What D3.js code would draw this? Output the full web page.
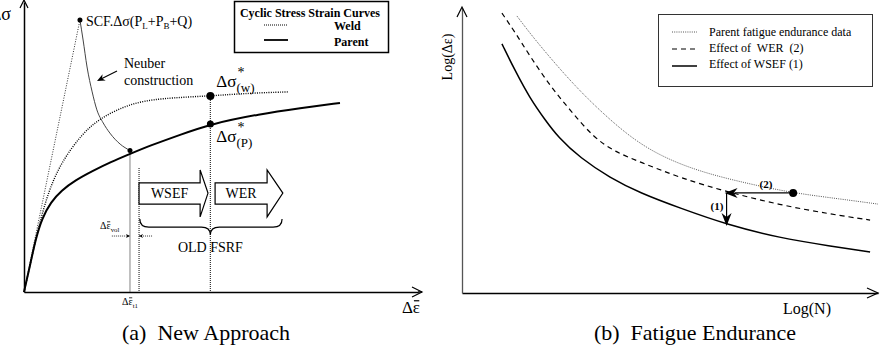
<!DOCTYPE html>
<html>
<head>
<meta charset="utf-8">
<script src="https://cdn.jsdelivr.net/npm/d3@7"></script>
<style>
body { margin: 0; background: #fff; }
svg text { font-family: "Liberation Serif", "Times New Roman", "DejaVu Serif", serif; fill: #000; }
</style>
</head>
<body>
<div id="chart"></div>
<script>
// ---- (a) New Approach : strain / stress, % of axis length ----
var parentCurve = [[0,0],[1.5,9.0],[3.0,18.5],[4.6,25.5],[6.8,31.0],[9.5,35.0],[13.0,38.5],[17.5,41.8],
    [22.0,44.8],[26.9,47.6],[32.0,50.5],[39.6,54.2],[47.3,57.9],[59.9,61.4],[70.1,63.4],[80.2,65.2]];
var weldCurve = [[0,0],[1.5,9.0],[3.0,18.5],[4.6,27.0],[6.6,36.0],[9.6,45.0],[14.7,54.5],[19.3,60.0],
    [26.9,65.0],[34.5,66.8],[47.3,67.6],[57.4,68.6],[67.0,69.0]];
var neuberCurve = [[14.2,93.8],[15.0,86.9],[16.0,77.6],[17.3,69.0],[18.5,62.8],[20.1,58.3],
    [21.8,54.8],[24.4,51.0],[26.9,48.8]];
var scfPoint = [14.2, 93.8];
var neuberPoint = [26.9, 48.8];
var volStrain = 29.2;          // Δε_vol shifted strain
var starStrain = 47.3;          // Δσ* strain
var weldStar = 67.6, parentStar = 57.9;
var blockArrows = [
    {label: "WSEF", x0: 29.2, x1: 44.7, tip: 46.7},
    {label: "WER", x0: 48.5, x1: 61.7, tip: 65.7}
];
var braceRange = [29.4, 47.3, 65.5];
var legendA = ["Weld", "Parent"];

// ---- (b) Fatigue Endurance : log N / log strain, % of axis length ----
var parentFatigue = [[13.2,97.2],[16.3,91.2],[21.2,82.5],[27.2,72.6],[33.2,63.9],[40.4,54.7],
    [47.6,48.1],[57.2,42.5],[69.2,38.2],[79.6,35.1],[90.9,33.0],[100,31.2]];
var werCurve = [[9.6,98.2],[12.7,91.6],[16.3,83.2],[21.2,72.6],[26.0,64.2],[31.5,54.7],[36.8,49.5],
    [42.8,46.0],[52.4,40.4],[63.9,35.4],[76.4,30.9],[88.5,27.7],[98.1,25.6]];
var wsefCurve = [[9.6,87.4],[12.7,78.2],[16.3,68.4],[20.0,60.7],[23.1,54.7],[28.4,47.4],[35.6,40.4],
    [42.8,35.1],[52.4,29.8],[63.9,23.9],[76.4,19.3],[88.5,16.5],[98.1,14.4]];
var startPoint = [79.6, 35.1];
var werShift = 63.6;
var wsefDrop = 23.5;
var legendB = ["Parent fatigue endurance data", "Effect of  WER  (2)", "Effect of WSEF (1)"];

var svg = d3.select("#chart").append("svg")
    .attr("width", 884)
    .attr("height", 352)
    .attr("font-family", "Liberation Serif, serif");

function arrowHead(g, x1, y1, x2, y2, len, hw) {
    var a = Math.atan2(y2 - y1, x2 - x1);
    var c = Math.cos(a), s = Math.sin(a);
    var bx = x2 - len * c, by = y2 - len * s;
    var mx = x2 - len * 0.7 * c, my = y2 - len * 0.7 * s;
    g.append("path")
        .attr("d", "M" + x2 + "," + y2 + "L" + (bx - s * hw) + "," + (by + c * hw) +
            "L" + mx + "," + my + "L" + (bx + s * hw) + "," + (by - c * hw) + "Z")
        .attr("fill", "#000");
}

function openHead(g, x, y, dir, len, hw) {
    var p = dir == "up" ? [[x - hw, y + len], [x, y], [x + hw, y + len]]
                        : [[x - len, y - hw], [x, y], [x - len, y + hw]];
    g.append("polyline")
        .attr("points", p.join(" "))
        .attr("fill", "none")
        .attr("stroke", "#000")
        .attr("stroke-width", 1.2);
}

// Δ + ε with a bar over the ε, then optional subscript
function strainLabel(g, x, y, size, sub, anchor) {
    var t = g.append("text")
        .attr("x", x).attr("y", y)
        .attr("text-anchor", anchor || "start")
        .style("font-size", size + "px")
        .text("\u0394\u03B5");
    if (sub) {
        t.append("tspan").attr("dy", size * 0.25).style("font-size", (size * 0.68) + "px").text(sub);
    }
    var r = t.node().getExtentOfChar(1);
    g.append("line")
        .attr("x1", r.x + r.width * 0.15).attr("x2", r.x + r.width * 0.9)
        .attr("y1", y - size * 0.72).attr("y2", y - size * 0.72)
        .attr("stroke", "#000")
        .attr("stroke-width", size > 12 ? 1.2 : 0.8);
}

// ================= panel (a) =================
var left = svg.append("g");
var xa = d3.scaleLinear().domain([0, 100]).range([24, 418]);
var ya = d3.scaleLinear().domain([0, 100]).range([292, 2]);
var lineA = d3.line()
    .x(function(d) { return xa(d[0]); })
    .y(function(d) { return ya(d[1]); })
    .curve(d3.curveBasis);

left.append("g")
    .attr("transform", "translate(0," + ya(0) + ")")
    .call(d3.axisBottom(xa).ticks(0).tickSizeOuter(0))
    .select(".domain").attr("stroke-width", 1.5);
left.append("line")
    .attr("x1", xa(100)).attr("x2", xa(100) + 4)
    .attr("y1", ya(0)).attr("y2", ya(0))
    .attr("stroke", "#000").attr("stroke-width", 1.5);
openHead(left, xa(100) + 4, ya(0), "right", 10, 5);

left.append("g")
    .attr("transform", "translate(" + xa(0) + ",0)")
    .call(d3.axisLeft(ya).ticks(0).tickSizeOuter(0))
    .select(".domain").attr("stroke-width", 1.5);
openHead(left, xa(0), 0, "up", 8, 4);

// vertical construction lines
var verticals = [[neuberPoint[0], neuberPoint[1]], [volStrain, 42.8], [starStrain, weldStar]];
left.selectAll(".vline")
    .data(verticals)
    .enter()
    .append("line")
    .attr("class", "vline")
    .attr("x1", function(d) { return xa(d[0]); })
    .attr("x2", function(d) { return xa(d[0]); })
    .attr("y1", function(d) { return ya(d[1]); })
    .attr("y2", ya(0))
    .attr("stroke", "#333")
    .attr("stroke-width", 1.2)
    .attr("stroke-dasharray", "1,1");

// elastic line to SCF point
left.append("line")
    .attr("x1", xa(0)).attr("y1", ya(0))
    .attr("x2", xa(scfPoint[0])).attr("y2", ya(scfPoint[1]))
    .attr("stroke", "#333")
    .attr("stroke-width", 1)
    .attr("stroke-dasharray", "1,1.5");

left.append("path")
    .attr("d", lineA.curve(d3.curveMonotoneX)(neuberCurve))
    .attr("fill", "none")
    .attr("stroke", "#444")
    .attr("stroke-width", 1);
lineA.curve(d3.curveBasis);

left.append("path")
    .attr("d", lineA(weldCurve))
    .attr("fill", "none")
    .attr("stroke", "#000")
    .attr("stroke-width", 1.4)
    .attr("stroke-dasharray", "1,1.3");

left.append("path")
    .attr("d", lineA(parentCurve))
    .attr("fill", "none")
    .attr("stroke", "#000")
    .attr("stroke-width", 2);

var dots = [[scfPoint, 2.5], [neuberPoint, 2.5], [[starStrain, weldStar], 4], [[starStrain, parentStar], 3.5]];
left.selectAll(".dot")
    .data(dots)
    .enter()
    .append("circle")
    .attr("cx", function(d) { return xa(d[0][0]); })
    .attr("cy", function(d) { return ya(d[0][1]); })
    .attr("r", function(d) { return d[1]; })
    .attr("fill", "#000");

// block arrows
blockArrows.forEach(function(b) {
    var yt = ya(37.6), yb = ya(30.3), ht = ya(42.1), hb = ya(25.9), ym = ya(34.1);
    var pts = [[xa(b.x0), yt], [xa(b.x1), yt], [xa(b.x1), ht], [xa(b.tip), ym],
        [xa(b.x1), hb], [xa(b.x1), yb], [xa(b.x0), yb]];
    left.append("polygon")
        .attr("points", pts.join(" "))
        .attr("fill", "#fff")
        .attr("stroke", "#000")
        .attr("stroke-width", 1.2);
    left.append("text")
        .attr("x", (xa(b.x0) + xa(b.x1)) / 2)
        .attr("y", ym + 5)
        .attr("text-anchor", "middle")
        .style("font-size", "14px")
        .text(b.label);
});

// brace
var bx0 = xa(braceRange[0]), bxc = xa(braceRange[1]), bx1 = xa(braceRange[2]);
var by0 = ya(25.2), byM = ya(22.4), byC = ya(19.7);
left.append("path")
    .attr("d", "M" + bx0 + "," + by0 + "Q" + bx0 + "," + byM + " " + (bx0 + 9) + "," + byM +
        "L" + (bxc - 9) + "," + byM + "Q" + bxc + "," + byM + " " + bxc + "," + byC +
        "Q" + bxc + "," + byM + " " + (bxc + 9) + "," + byM +
        "L" + (bx1 - 9) + "," + byM + "Q" + bx1 + "," + byM + " " + bx1 + "," + by0)
    .attr("fill", "none")
    .attr("stroke", "#000")
    .attr("stroke-width", 1.2);
left.append("text")
    .attr("x", bxc)
    .attr("y", byC + 17)
    .attr("text-anchor", "middle")
    .style("font-size", "14px")
    .text("OLD FSRF");

// Δε_vol arrows
var volY = ya(19.3);
[[22.3, neuberPoint[0]], [32.5, volStrain]].forEach(function(a) {
    left.append("line")
        .attr("x1", xa(a[0])).attr("x2", xa(a[1]))
        .attr("y1", volY).attr("y2", volY)
        .attr("stroke", "#333")
        .attr("stroke-dasharray", "1,1");
    arrowHead(left, xa(a[0]), volY, xa(a[1]), volY, 4, 2);
});
strainLabel(left, 100, 229, 10, "vol");
strainLabel(left, 122, 305, 10, "t1");

// axis labels
strainLabel(left, 420, 313, 17, null, "end");
left.append("text")
    .attr("x", 11).attr("y", 20)
    .attr("text-anchor", "end")
    .style("font-size", "18px")
    .text("\u0394\u03C3");

// SCF label
var scf = left.append("text")
    .attr("x", xa(scfPoint[0]) + 6).attr("y", ya(scfPoint[1]) + 6)
    .style("font-size", "14px");
scf.append("tspan").text("SCF.\u0394\u03C3(P");
scf.append("tspan").attr("dy", 3).style("font-size", "9px").text("L");
scf.append("tspan").attr("dy", -3).text("+P");
scf.append("tspan").attr("dy", 3).style("font-size", "9px").text("B");
scf.append("tspan").attr("dy", -3).text("+Q)");

// Neuber note
left.append("text").attr("x", 124).attr("y", 68).style("font-size", "14px").text("Neuber");
left.append("text").attr("x", 124).attr("y", 85).style("font-size", "14px").text("construction");
left.append("line")
    .attr("x1", 117).attr("y1", 71).attr("x2", 101).attr("y2", 79)
    .attr("stroke", "#000").attr("stroke-width", 1.2);
arrowHead(left, 117, 71, 97, 81, 8, 3.5);

// Δσ* labels
[[weldStar, "(w)", -9], [parentStar, "(P)", 18]].forEach(function(s) {
    var t = left.append("text")
        .attr("x", xa(starStrain) + 6).attr("y", ya(s[0]) + s[2])
        .style("font-size", "17px")
        .text("\u0394\u03C3");
    t.append("tspan").attr("dy", -10).attr("dx", 1).style("font-size", "14px").text("*");
    t.append("tspan").attr("dy", 15).attr("dx", -8).style("font-size", "13px").text(s[1]);
});

// legend (a)
left.append("rect")
    .attr("x", 234.5).attr("y", 1.5).attr("width", 154).attr("height", 51)
    .attr("fill", "#fff").attr("stroke", "#000").attr("stroke-width", 1.5);
left.append("text")
    .attr("x", 310).attr("y", 17)
    .attr("text-anchor", "middle")
    .style("font-size", "12px").style("font-weight", "bold")
    .text("Cyclic Stress Strain Curves");
legendA.forEach(function(k, i) {
    left.append("line")
        .attr("x1", 264).attr("x2", 288)
        .attr("y1", 25 + i * 15).attr("y2", 25 + i * 15)
        .attr("stroke", "#000")
        .attr("stroke-width", i == 0 ? 1 : 1.8)
        .attr("stroke-dasharray", i == 0 ? "1,1" : null);
    left.append("text")
        .attr("x", 334).attr("y", 30 + i * 16)
        .style("font-size", "12px").style("font-weight", "bold")
        .text(k);
});

left.append("text")
    .attr("x", 206).attr("y", 340)
    .attr("text-anchor", "middle")
    .style("font-size", "22px")
    .style("white-space", "pre")
    .text("(a)  New Approach");

// ================= panel (b) =================
var right = svg.append("g");
var xb = d3.scaleLinear().domain([0, 100]).range([462, 878]);
var yb = d3.scaleLinear().domain([0, 100]).range([293, 8]);
var lineB = d3.line()
    .x(function(d) { return xb(d[0]); })
    .y(function(d) { return yb(d[1]); })
    .curve(d3.curveBasis);

right.append("g")
    .attr("transform", "translate(0," + yb(0) + ")")
    .call(d3.axisBottom(xb).ticks(0).tickSizeOuter(0))
    .select(".domain").attr("stroke-width", 1.3);
openHead(right, xb(100), yb(0), "right", 11, 5);
right.append("g")
    .attr("transform", "translate(" + xb(0) + ",0)")
    .call(d3.axisLeft(yb).ticks(0).tickSizeOuter(0))
    .select(".domain").attr("stroke", "#555").attr("stroke-width", 1.3);
openHead(right, xb(0), yb(100) - 1, "up", 10, 5);

var seriesB = [
    {data: parentFatigue, dash: "1,1.2", width: 1, color: "#555"},
    {data: werCurve, dash: "5,4", width: 1.2, color: "#000"},
    {data: wsefCurve, dash: null, width: 1.5, color: "#000"}
];
seriesB.forEach(function(s, i) {
    right.append("path")
        .attr("d", lineB(s.data))
        .attr("fill", "none")
        .attr("stroke", s.color)
        .attr("stroke-width", s.width)
        .attr("stroke-dasharray", s.dash);
    right.append("line")
        .attr("x1", 672).attr("x2", 697)
        .attr("y1", 32 + i * 17).attr("y2", 32 + i * 17)
        .attr("stroke", s.color)
        .attr("stroke-width", s.width)
        .attr("stroke-dasharray", s.dash);
    right.append("text")
        .attr("x", 709).attr("y", 36 + i * 16)
        .style("font-size", "12px")
        .style("white-space", "pre")
        .text(legendB[i]);
});
right.append("rect")
    .attr("x", 658.5).attr("y", 14.5).attr("width", 214).attr("height", 72)
    .attr("fill", "none").attr("stroke", "#333").attr("stroke-width", 1);

// shift arrows
var sx = xb(startPoint[0]), sy = yb(startPoint[1]), wx = xb(werShift), dy = yb(wsefDrop);
right.append("line").attr("x1", sx).attr("y1", sy).attr("x2", wx + 8).attr("y2", sy)
    .attr("stroke", "#000").attr("stroke-width", 1.2);
arrowHead(right, sx, sy, wx - 2, sy, 13, 5);
right.append("line").attr("x1", wx).attr("y1", sy).attr("x2", wx).attr("y2", dy - 8)
    .attr("stroke", "#000").attr("stroke-width", 1.2);
arrowHead(right, wx, sy, wx, dy, 13, 5);
right.append("circle").attr("cx", sx).attr("cy", sy).attr("r", 4).attr("fill", "#000");
right.append("text").attr("x", 766).attr("y", 188).attr("text-anchor", "middle")
    .style("font-size", "11px").style("font-weight", "bold").text("(2)");
right.append("text").attr("x", 717).attr("y", 210).attr("text-anchor", "middle")
    .style("font-size", "11px").style("font-weight", "bold").text("(1)");

right.append("text")
    .attr("transform", "translate(452,57) rotate(-90)")
    .attr("text-anchor", "middle")
    .style("font-size", "14px")
    .text("Log(\u0394\u03B5)");
right.append("text")
    .attr("x", 807).attr("y", 314)
    .attr("text-anchor", "middle")
    .style("font-size", "16px")
    .text("Log(N)");
right.append("text")
    .attr("x", 695).attr("y", 340)
    .attr("text-anchor", "middle")
    .style("font-size", "22px")
    .style("white-space", "pre")
    .text("(b)  Fatigue Endurance");
</script>
</body>
</html>
